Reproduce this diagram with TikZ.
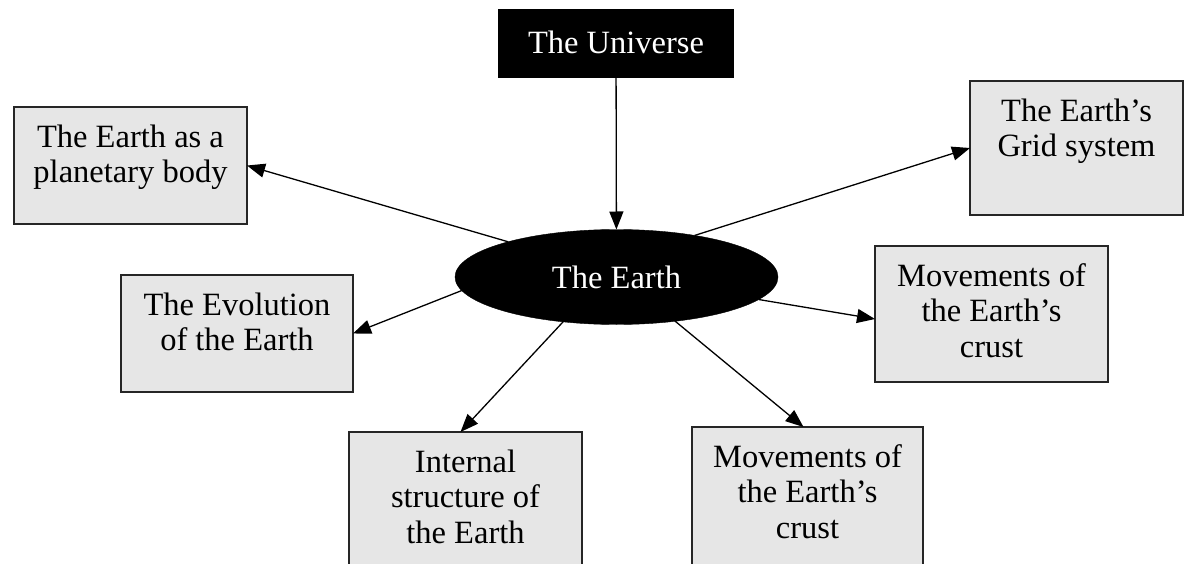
\documentclass[tikz,border=0pt]{standalone}
\usepackage{fontspec}
\setmainfont{Liberation Serif}
\usetikzlibrary{arrows.meta,shapes.geometric}
\definecolor{boxgray}{HTML}{E6E6E6}
\begin{document}
\begin{tikzpicture}[x=1pt,y=-1pt,
  bigfont/.style={font=\fontsize{32.5}{35.5}\selectfont},
  txt/.style={bigfont, align=center, inner sep=0pt, anchor=north},
  gbox/.style={draw=black!85, line width=1.3pt, fill=boxgray, anchor=north west, inner sep=0pt, outer sep=0pt},
  conn/.style={line width=1.3pt, -{Triangle[length=18pt,width=14pt]}}]
\clip (0,0) rectangle (1185,564);
\fill[white] (0,0) rectangle (1185,564);

% top box
\node[gbox, fill=black, draw=black, text=white, bigfont, minimum width=234pt, minimum height=67pt] (uni) at (499,10) {\raisebox{2pt}{The Universe}};

% central ellipse
\node[ellipse, fill=black, draw=black, minimum width=323pt, minimum height=95pt, inner sep=0pt, outer sep=0pt, text=white, bigfont] (earth) at (616.5,277) {The Earth};

% grey boxes
\node[gbox, minimum width=233pt, minimum height=117pt] (pb) at (14,107) {};
\node[txt] (pbt) at ([yshift=-15pt]pb.north) {\strut The Earth as a\\planetary body};

\node[gbox, minimum width=213pt, minimum height=134pt] (grid) at (970,81) {};
\node[txt] (gridt) at ([yshift=-15pt]grid.north) {\strut The Earth’s\\Grid system};

\node[gbox, minimum width=232pt, minimum height=117pt] (evo) at (121,275) {};
\node[txt] (evot) at ([yshift=-15pt]evo.north) {\strut The Evolution\\of the Earth};

\node[gbox, minimum width=233pt, minimum height=136pt] (mr) at (875,246) {};
\node[txt] (mrt) at ([yshift=-15pt]mr.north) {\strut Movements of\\the Earth’s\\crust};

\node[gbox, minimum width=233pt, minimum height=150pt] (inb) at (349,432) {};
\node[txt] (inbt) at ([yshift=-15pt]inb.north) {\strut Internal\\structure of\\the Earth};

\node[gbox, minimum width=231pt, minimum height=155pt] (mb) at (692,427) {};
\node[txt] (mbt) at ([yshift=-15pt]mb.north) {\strut Movements of\\the Earth’s\\crust};

% connectors
\draw[conn] (uni) -- (earth);
\draw[conn] (earth.162.6) -- (pb.east);
\draw[conn] (earth.28.1) -- (grid.west);
\draw[conn] (earth.185) -- (evo.east);
\draw[conn] (earth.351.6) -- ([yshift=-5pt]mr.west);
\draw[conn] (earth.220.8) -- ([xshift=-5pt]inb.north);
\draw[conn] (earth.323.3) -- ([xshift=-4pt]mb.north);
\end{tikzpicture}
\end{document}
